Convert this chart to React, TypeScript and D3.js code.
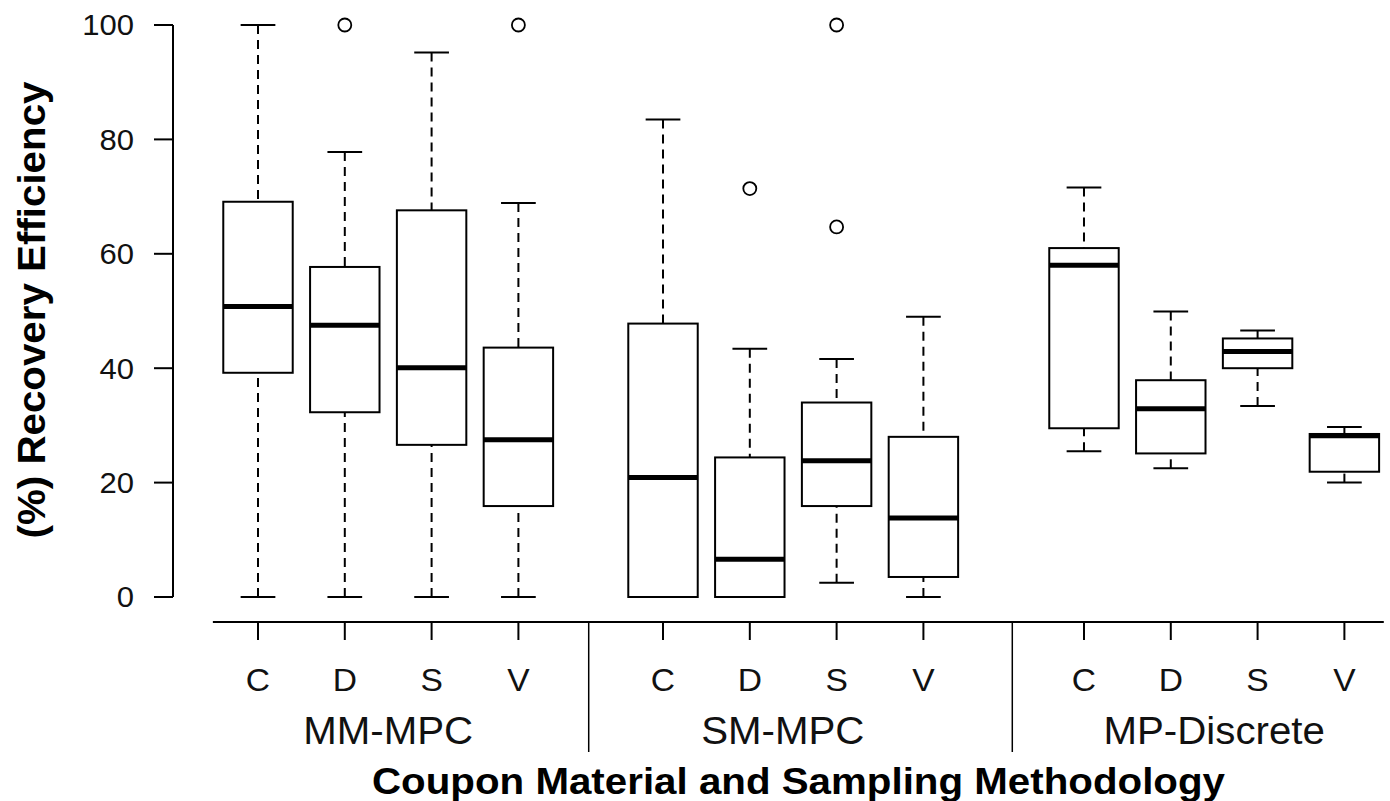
import * as d3 from "d3";

const WIDTH = 1390;
const HEIGHT = 801;

// data (percent recovery)
const groups = ["MM-MPC", "SM-MPC", "MP-Discrete"];
const methods = ["C", "D", "S", "V"];
const whiskerLow = [
  [0, 0, 0, 0],
  [0, 0, 2.5, 0],
  [25.5, 22.5, 33.4, 20.0],
];
const q1 = [
  [39.2, 32.3, 26.6, 15.9],
  [0, 0, 15.9, 3.5],
  [29.5, 25.1, 40.0, 21.9],
];
const median = [
  [50.8, 47.5, 40.1, 27.5],
  [20.9, 6.6, 23.8, 13.8],
  [58.0, 32.9, 42.9, 28.2],
];
const q3 = [
  [69.1, 57.7, 67.6, 43.6],
  [47.8, 24.4, 34.0, 28.0],
  [61.0, 37.9, 45.2, 28.5],
];
const whiskerHigh = [
  [100, 77.8, 95.2, 68.9],
  [83.5, 43.4, 41.6, 49.0],
  [71.6, 49.9, 46.6, 29.7],
];
const outliers = [
  [[], [100], [], [100]],
  [[], [71.4], [100, 64.7], []],
  [[], [], [], []],
];
const yTicks = [0, 20, 40, 60, 80, 100];

// layout: slot offset of each group start, and group dividers
const GROUP_START = [0, 4.666, 9.516];
const GROUP_LABEL_SHIFT = [0, -0.12, 0];
const DIVIDERS = [3.81, 8.69];
const AXIS_EXTENT = [-0.52, 12.97];
const BOX_HALF = 0.4;
const CAP_HALF = 0.2;
const FONT = "'Liberation Sans', Arial, Helvetica, sans-serif";

export default function App() {
  const x = d3.scaleLinear().domain([0, 1]).range([258, 344.8]);
  const y = d3.scaleLinear().domain([0, 100]).range([597, 25]);
  const axisX = 173;
  const axisY = 622;

  const boxes = groups.flatMap((g, gi) =>
    methods.map((m, mi) => ({
      key: `${g}-${m}`,
      pos: GROUP_START[gi] + mi,
      lo: whiskerLow[gi][mi],
      q1: q1[gi][mi],
      med: median[gi][mi],
      q3: q3[gi][mi],
      hi: whiskerHigh[gi][mi],
      out: outliers[gi][mi] as number[],
      label: m,
    }))
  );

  return (
    <svg width={WIDTH} height={HEIGHT} style={{ position: "absolute", left: 0, top: 0, background: "#fff" }}>
      <rect width={WIDTH} height={HEIGHT} fill="#fff" />
      {/* y axis */}
      <line x1={axisX} x2={axisX} y1={y(0)} y2={y(100)} stroke="#000" strokeWidth={2} />
      {yTicks.map((t) => (
        <g key={t}>
          <line x1={axisX - 19} x2={axisX} y1={y(t)} y2={y(t)} stroke="#000" strokeWidth={2} />
          <text
            x={134}
            y={y(t)}
            dy="0.36em"
            textAnchor="end"
            fontFamily={FONT}
            fontSize={29}
            fill="#111"
            transform={`translate(134,0) scale(1.07,1) translate(-134,0)`}
          >
            {t}
          </text>
        </g>
      ))}
      <text
        transform={`translate(45,310) rotate(-90)`}
        textAnchor="middle"
        fontFamily={FONT}
        fontWeight="bold"
        fontSize={38}
        textLength={457}
        lengthAdjust="spacingAndGlyphs"
      >
        (%) Recovery Efficiency
      </text>

      {/* boxes */}
      {boxes.map((b) => {
        const cx = x(b.pos);
        const hw = x(BOX_HALF) - x(0);
        const cw = x(CAP_HALF) - x(0);
        return (
          <g key={b.key}>
            <line x1={cx} x2={cx} y1={y(b.hi)} y2={y(b.q3)} stroke="#000" strokeWidth={2} strokeDasharray="9,6" />
            <line x1={cx} x2={cx} y1={y(b.lo)} y2={y(b.q1)} stroke="#000" strokeWidth={2} strokeDasharray="9,6" />
            <line x1={cx - cw} x2={cx + cw} y1={y(b.hi)} y2={y(b.hi)} stroke="#000" strokeWidth={2} />
            <line x1={cx - cw} x2={cx + cw} y1={y(b.lo)} y2={y(b.lo)} stroke="#000" strokeWidth={2} />
            <rect
              x={cx - hw}
              width={hw * 2}
              y={y(b.q3)}
              height={y(b.q1) - y(b.q3)}
              fill="#fff"
              stroke="#000"
              strokeWidth={2}
            />
            <line x1={cx - hw} x2={cx + hw} y1={y(b.med)} y2={y(b.med)} stroke="#000" strokeWidth={5} />
            {b.out.map((o, i) => (
              <circle key={i} cx={cx} cy={y(o)} r={6.5} fill="none" stroke="#000" strokeWidth={1.8} />
            ))}
          </g>
        );
      })}

      {/* x axis */}
      <line x1={x(AXIS_EXTENT[0])} x2={x(AXIS_EXTENT[1])} y1={axisY} y2={axisY} stroke="#000" strokeWidth={2} />
      {boxes.map((b) => (
        <g key={`t-${b.key}`}>
          <line x1={x(b.pos)} x2={x(b.pos)} y1={axisY} y2={axisY + 18} stroke="#000" strokeWidth={2} />
          <text
            x={x(b.pos)}
            y={691}
            textAnchor="middle"
            fontFamily={FONT}
            fontSize={32}
            fill="#111"
            transform={`translate(${x(b.pos)},0) scale(1.05,1) translate(${-x(b.pos)},0)`}
          >
            {b.label}
          </text>
        </g>
      ))}
      {DIVIDERS.map((d) => (
        <line key={d} x1={x(d)} x2={x(d)} y1={axisY} y2={752} stroke="#000" strokeWidth={1.5} />
      ))}
      {groups.map((g, gi) => {
        const gx = x(GROUP_START[gi] + 1.5 + GROUP_LABEL_SHIFT[gi]);
        return (
          <text
            key={g}
            x={gx}
            y={744}
            textAnchor="middle"
            fontFamily={FONT}
            fontSize={38}
            fill="#111"
            transform={`translate(${gx},0) scale(1.06,1) translate(${-gx},0)`}
          >
            {g}
          </text>
        );
      })}
      <text
        x={798.5}
        y={794}
        textAnchor="middle"
        fontFamily={FONT}
        fontWeight="bold"
        fontSize={37}
        textLength={853}
        lengthAdjust="spacingAndGlyphs"
      >
        Coupon Material and Sampling Methodology
      </text>
    </svg>
  );
}
